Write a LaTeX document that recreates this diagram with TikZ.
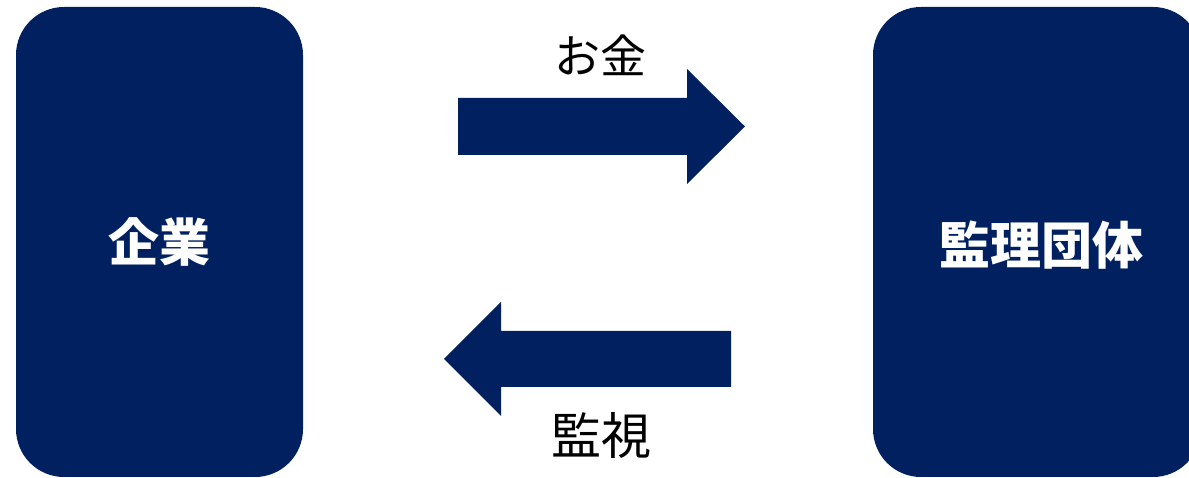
\documentclass[tikz,border=0pt]{standalone}
\usepackage{fontspec}
\setmainfont{Noto Sans CJK JP}
\definecolor{navy}{HTML}{002060}
\tikzset{
  party/.style={fill=navy, rounded corners=48pt, inner sep=0pt, text=white,
    font=\fontsize{51}{60}\selectfont\bfseries},
  blockarrow/.style={fill=navy},
  flowlabel/.style={inner sep=0pt, text=black}
}
\begin{document}
\begin{tikzpicture}[x=1pt,y=1pt]
\useasboundingbox (0,0) rectangle (1189,478);
\clip (0,0) rectangle (1189,478);
\node[party, minimum width=287pt, minimum height=470pt] (company) at (159.5,236) {企業};
\node[party, minimum width=328pt, minimum height=470pt] (body) at (1037,236) {};
\node[inner sep=0pt, text=white, font=\fontsize{51}{60}\selectfont\bfseries] (bodylabel) at (1041,233) {監理団体};
\fill[blockarrow] (458,380) -- (687,380) -- (687,409) -- (745,351.5) -- (687,294) -- (687,323) -- (458,323) -- cycle;
\fill[blockarrow] (731,147) -- (501,147) -- (501,176) -- (444,119) -- (501,62) -- (501,91) -- (731,91) -- cycle;
\node[flowlabel, font=\fontsize{46}{55}\selectfont] (money) at (600,423) {お金};
\node[flowlabel, font=\fontsize{50}{58}\selectfont] (watch) at (601,42) {監視};
\end{tikzpicture}
\end{document}
